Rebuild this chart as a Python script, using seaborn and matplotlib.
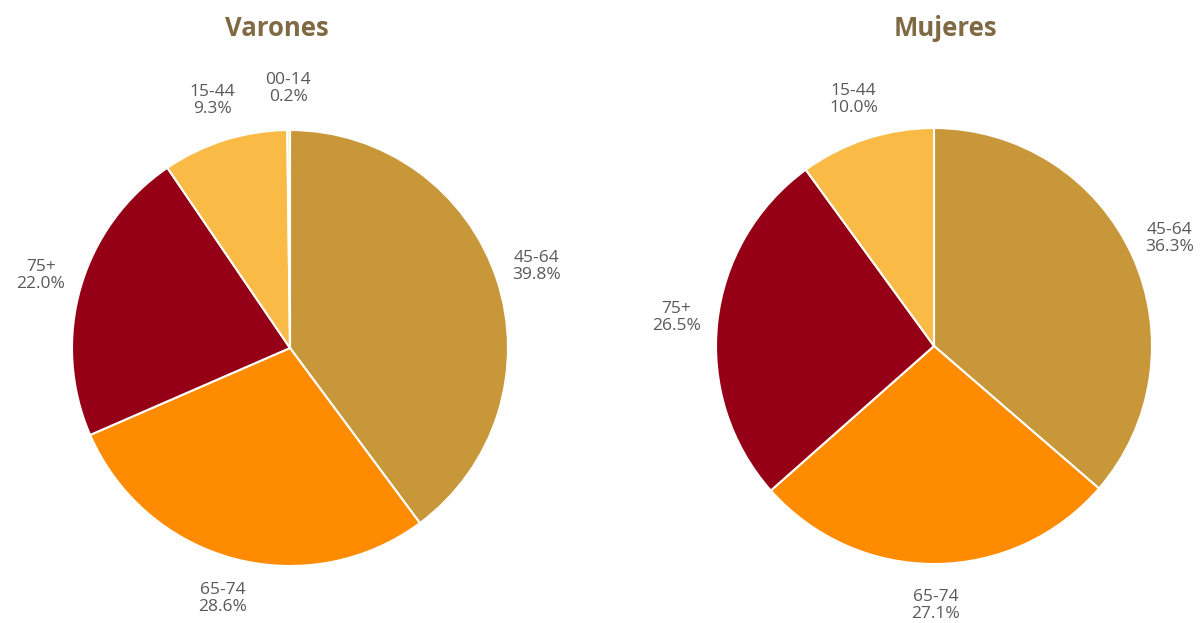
import numpy as np
import matplotlib
matplotlib.use("Agg")
import matplotlib.pyplot as plt
import seaborn as sns

sns.set_style("white")
plt.rcParams["font.family"] = ["Open Sans", "DejaVu Sans"]

# Age-group shares of deaths, by sex (percent), ordered clockwise from 12 o'clock
varones_groups = ["45-64", "65-74", "75+", "15-44", "00-14"]
varones_values = [39.8, 28.6, 22.0, 9.3, 0.2]

mujeres_groups = ["45-64", "65-74", "75+", "15-44"]
mujeres_values = [36.3, 27.1, 26.5, 10.0]

group_colors = {
    "45-64": "#C8973A",
    "65-74": "#FF8B00",
    "75+": "#950017",
    "15-44": "#F9BB45",
    "00-14": "#FBE3A2",
}

title_color = "#7F6A43"
label_color = "#595959"

W, H = 1203, 623
fig = plt.figure(figsize=(W / 100, H / 100), dpi=100)

R_PX = 218  # pie radius in pixels
LIM = 1.3


def add_pie(cx, cy, title, title_x, groups, values):
    half = LIM * R_PX
    ax = fig.add_axes([(cx - half) / W, (H - cy - half) / H, 2 * half / W, 2 * half / H])
    wedges, _ = ax.pie(
        values,
        colors=[group_colors[g] for g in groups],
        startangle=90,
        counterclock=False,
        wedgeprops=dict(edgecolor="white", linewidth=1.5),
    )
    for w, g, v in zip(wedges, groups, values):
        mid = np.deg2rad((w.theta1 + w.theta2) / 2)
        d = 1.19
        ax.text(d * np.cos(mid), d * np.sin(mid), f"{g}\n{v:.1f}%",
                ha="center", va="center", fontsize=12.5, color=label_color,
                linespacing=1.08)
    ax.set_xlim(-LIM, LIM)
    ax.set_ylim(-LIM, LIM)
    ax.set_aspect("equal")
    ax.axis("off")
    fig.text(title_x / W, 1 - 28 / H, title, ha="center", va="center",
             fontsize=18.5, fontweight="bold", color=title_color)


add_pie(290, 348, "Varones", 277, varones_groups, varones_values)
add_pie(934, 346, "Mujeres", 945, mujeres_groups, mujeres_values)

fig.savefig("out.png", dpi=100, facecolor="white")
